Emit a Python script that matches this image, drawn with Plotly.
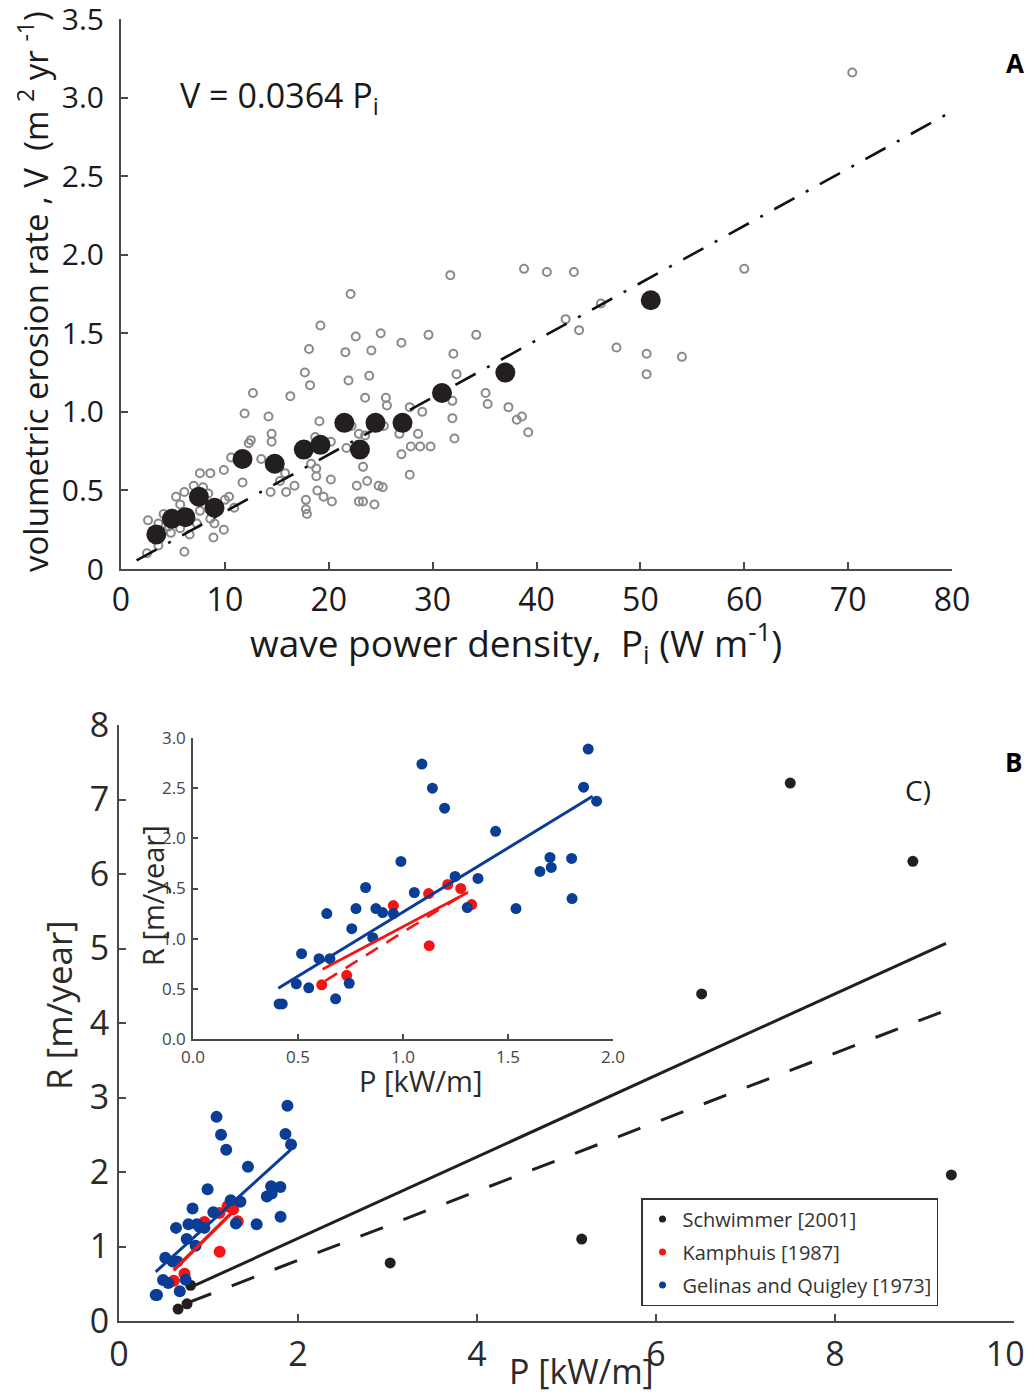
import plotly.graph_objects as go

# The page body has an 8px margin, so the figure is made 8px smaller and
# all layout positions (measured on the 1034x1395 picture) are shifted.
OFF = 8
W, H = 1034 - OFF, 1395 - OFF
FONT = "Open Sans"

# ---------------- Panel A data ----------------
a_grey_x = [31.7, 38.8, 41.0, 43.6, 22.1, 19.2, 18.1, 22.6, 25.0, 21.6, 24.1, 27.0, 29.6, 34.2, 32.0, 32.3,
            17.7, 18.2, 21.9, 23.9, 12.7, 16.3, 23.5, 25.5, 25.6, 27.8, 29.0, 35.1, 35.3, 37.3, 38.1, 38.6,
            39.2, 31.9, 31.9, 32.1, 11.9, 14.2, 19.1, 14.5, 14.5, 12.5, 12.3, 10.6, 13.5, 18.7, 20.2, 21.7,
            22.9, 23.5, 22.2, 25.3, 26.8, 28.6, 27.9, 28.8, 29.8, 27.0, 27.8, 18.3, 18.8, 18.8, 20.2, 15.8,
            15.3, 16.7, 14.4, 15.9, 18.9, 19.5, 20.3, 17.8, 17.8, 17.9, 23.3, 23.7, 22.7, 24.8, 25.2, 22.9,
            23.3, 24.4, 11.7, 10.4, 10.0, 10.9, 7.6, 8.6, 9.9, 7.0, 7.9, 6.1, 5.3, 5.7, 8.4, 8.6,
            9.0, 9.9, 8.9, 6.1, 6.6, 4.8, 2.6, 3.6, 4.1, 3.6, 2.5, 4.6, 7.6, 7.3, 5.7, 3.1,
            70.4, 60.0, 46.2, 42.8, 44.1, 47.7, 50.6, 54.0, 50.6]
a_grey_y = [1.87, 1.91, 1.89, 1.89, 1.75, 1.55, 1.40, 1.48, 1.50, 1.38, 1.39, 1.44, 1.49, 1.49, 1.37, 1.24,
            1.25, 1.17, 1.20, 1.23, 1.12, 1.10, 1.09, 1.09, 1.04, 1.03, 1.00, 1.12, 1.05, 1.03, 0.95, 0.97,
            0.87, 1.07, 0.96, 0.83, 0.99, 0.97, 0.94, 0.86, 0.81, 0.82, 0.80, 0.71, 0.70, 0.84, 0.81, 0.77,
            0.86, 0.85, 0.91, 0.91, 0.86, 0.86, 0.78, 0.78, 0.78, 0.73, 0.60, 0.67, 0.64, 0.59, 0.57, 0.61,
            0.56, 0.53, 0.49, 0.49, 0.50, 0.46, 0.43, 0.44, 0.38, 0.35, 0.65, 0.56, 0.53, 0.53, 0.52, 0.43,
            0.43, 0.41, 0.55, 0.46, 0.44, 0.39, 0.61, 0.61, 0.63, 0.53, 0.52, 0.49, 0.46, 0.41, 0.48, 0.32,
            0.29, 0.25, 0.20, 0.11, 0.22, 0.23, 0.31, 0.29, 0.35, 0.15, 0.10, 0.27, 0.37, 0.29, 0.26, 0.20,
            3.16, 1.91, 1.69, 1.59, 1.52, 1.41, 1.37, 1.35, 1.24]
a_mean_x = [3.4, 4.9, 6.2, 7.5, 9.0, 11.7, 14.8, 17.6, 19.2, 21.5, 23.0, 24.5, 27.1, 30.9, 37.0, 51.0]
a_mean_y = [0.22, 0.32, 0.33, 0.46, 0.39, 0.70, 0.67, 0.76, 0.79, 0.93, 0.76, 0.93, 0.93, 1.12, 1.25, 1.71]
a_fit_slope = 0.0364
a_fit_x = [1.5, 80.0]
a_xticks = [0, 10, 20, 30, 40, 50, 60, 70, 80]
a_yticks = [0, 0.5, 1.0, 1.5, 2.0, 2.5, 3.0, 3.5]
a_yticktext = ["0", "0.5", "1.0", "1.5", "2.0", "2.5", "3.0", "3.5"]

# ---------------- Panel B data ----------------
schw_x = [0.66, 0.76, 0.80, 3.03, 5.17, 6.51, 7.50, 8.87, 9.30]
schw_y = [0.16, 0.23, 0.48, 0.78, 1.10, 4.39, 7.22, 6.17, 1.96]
kamp_x = [0.613, 0.732, 0.954, 1.122, 1.125, 1.213, 1.275, 1.327]
kamp_y = [0.54, 0.635, 1.33, 1.45, 0.93, 1.54, 1.50, 1.34]
gel_x = [0.410, 0.425, 0.492, 0.517, 0.551, 0.600, 0.637, 0.652, 0.679, 0.744, 0.756, 0.776, 0.822, 0.856,
         0.871, 0.903, 0.954, 0.990, 1.054, 1.090, 1.140, 1.198, 1.248, 1.306, 1.357, 1.441, 1.538, 1.652,
         1.700, 1.706, 1.803, 1.805, 1.860, 1.882, 1.922]
gel_y = [0.35, 0.35, 0.55, 0.85, 0.51, 0.80, 1.25, 0.80, 0.40, 0.555, 1.10, 1.30, 1.51, 1.01,
         1.30, 1.26, 1.25, 1.77, 1.46, 2.74, 2.50, 2.30, 1.62, 1.31, 1.60, 2.07, 1.30, 1.67,
         1.81, 1.71, 1.80, 1.40, 2.51, 2.89, 2.37]
# fitted lines (end points)
b_black_solid_x = [0.76, 9.24]
b_black_solid_y = [0.43, 5.07]
b_black_dash_x = [0.78, 9.24]
b_black_dash_y = [0.25, 4.17]
b_blue_x = [0.41, 1.92]
b_blue_y = [0.66, 2.30]
b_red_x = [0.61, 1.30]
b_red_y = [0.68, 1.50]
in_blue_x = [0.406, 1.903]
in_blue_y = [0.505, 2.42]
in_red_x = [0.617, 1.308]
in_red_y = [0.695, 1.46]
in_red_dash_x = [0.63, 1.31]
in_red_dash_y = [0.58, 1.47]
b_xticks = [0, 2, 4, 6, 8, 10]
b_xticktext = ["0", "2", "4", "6", "8", "10\u00a0\u00a0"]
b_yticks = [0, 1, 2, 3, 4, 5, 6, 7, 8]
in_xticks = [0.0, 0.5, 1.0, 1.5, 2.0]
in_yticks = [0.0, 0.5, 1.0, 1.5, 2.0, 2.5, 3.0]
legend_names = ["Schwimmer [2001]", "Kamphuis [1987]", "Gelinas and Quigley [1973]"]

BLACK = "#231f20"
RED = "#f41414"
BLUE = "#0a3e96"
GREY = "#8a8a8a"
AXC = "#4a4a4a"


def px(x):
    return (x - OFF) / W


def py(y):
    return 1 - (y - OFF) / H


fig = go.Figure()

# Panel A
fig.add_trace(go.Scatter(x=a_grey_x, y=a_grey_y, mode="markers", xaxis="x", yaxis="y",
                         marker=dict(symbol="circle-open", size=8, color=GREY, line=dict(width=2, color=GREY)),
                         showlegend=False, cliponaxis=False))
fig.add_trace(go.Scatter(x=a_fit_x, y=[a_fit_slope * v for v in a_fit_x], mode="lines", xaxis="x", yaxis="y",
                         line=dict(color="#111111", width=2.6, dash="23px,13px,3px,13px"), showlegend=False))
fig.add_trace(go.Scatter(x=a_mean_x, y=a_mean_y, mode="markers", xaxis="x", yaxis="y",
                         marker=dict(size=20, color=BLACK), showlegend=False, cliponaxis=False))

# Panel B main
fig.add_trace(go.Scatter(x=schw_x, y=schw_y, mode="markers", xaxis="x2", yaxis="y2",
                         marker=dict(size=11, color=BLACK), showlegend=False, cliponaxis=False))
fig.add_trace(go.Scatter(x=kamp_x, y=kamp_y, mode="markers", xaxis="x2", yaxis="y2",
                         marker=dict(size=12, color=RED), showlegend=False))
fig.add_trace(go.Scatter(x=gel_x, y=gel_y, mode="markers", xaxis="x2", yaxis="y2",
                         marker=dict(size=12, color=BLUE), showlegend=False))
fig.add_trace(go.Scatter(x=b_red_x, y=b_red_y, mode="lines", xaxis="x2", yaxis="y2",
                         line=dict(color=RED, width=3.5), showlegend=False))
fig.add_trace(go.Scatter(x=b_blue_x, y=b_blue_y, mode="lines", xaxis="x2", yaxis="y2",
                         line=dict(color=BLUE, width=3), showlegend=False))
fig.add_trace(go.Scatter(x=b_black_solid_x, y=b_black_solid_y, mode="lines", xaxis="x2", yaxis="y2",
                         line=dict(color=BLACK, width=3), showlegend=False))
fig.add_trace(go.Scatter(x=b_black_dash_x, y=b_black_dash_y, mode="lines", xaxis="x2", yaxis="y2",
                         line=dict(color=BLACK, width=3, dash="24px,22px"), showlegend=False))

# Inset
fig.add_trace(go.Scatter(x=kamp_x, y=kamp_y, mode="markers", xaxis="x3", yaxis="y3",
                         marker=dict(size=11, color=RED), showlegend=False))
fig.add_trace(go.Scatter(x=gel_x, y=gel_y, mode="markers", xaxis="x3", yaxis="y3",
                         marker=dict(size=11, color=BLUE), showlegend=False, cliponaxis=False))
fig.add_trace(go.Scatter(x=in_red_x, y=in_red_y, mode="lines", xaxis="x3", yaxis="y3",
                         line=dict(color=RED, width=2.6), showlegend=False))
fig.add_trace(go.Scatter(x=in_red_dash_x, y=in_red_dash_y, mode="lines", xaxis="x3", yaxis="y3",
                         line=dict(color=RED, width=2.6, dash="14px,10px"), showlegend=False))
fig.add_trace(go.Scatter(x=in_blue_x, y=in_blue_y, mode="lines", xaxis="x3", yaxis="y3",
                         line=dict(color=BLUE, width=3), showlegend=False))

# Legend entries
for name, col in zip(legend_names, [BLACK, RED, BLUE]):
    fig.add_trace(go.Scatter(x=[None], y=[None], mode="markers", xaxis="x2", yaxis="y2", name=name,
                             legendgroup=name, marker=dict(size=7, color=col), showlegend=True))

axis_common = dict(showline=True, linecolor=AXC, linewidth=2, ticks="inside", tickcolor=AXC,
                   tickwidth=2, ticklen=7, showgrid=False, zeroline=False, mirror=False,
                   automargin=False, ticklabeloverflow="allow")
inset_axis = {**axis_common, "linewidth": 1.5, "ticklen": 5, "tickwidth": 1.5}

fig.update_layout(
    width=W, height=H, margin=dict(l=0, r=0, t=0, b=0, autoexpand=False),
    paper_bgcolor="white", plot_bgcolor="rgba(0,0,0,0)",
    font=dict(family=FONT, color="#1a1a1a"),
    xaxis=dict(domain=[px(121), px(952)], range=[0, 80], anchor="y", tickvals=a_xticks,
               tickfont=dict(size=32, color="#1a1a1a"), ticklabelstandoff=2, **axis_common),
    yaxis=dict(domain=[py(569), py(19)], range=[0, 3.5], anchor="x", tickvals=a_yticks,
               ticktext=a_yticktext, tickfont=dict(size=30, color="#1a1a1a"), ticklabelstandoff=9,
               **axis_common),
    xaxis2=dict(domain=[px(119), px(1014)], range=[0, 10], anchor="y2", tickvals=b_xticks,
                ticktext=b_xticktext, tickfont=dict(size=34, color="#2a2a2a"), ticklabelstandoff=2,
                **axis_common),
    yaxis2=dict(domain=[py(1321), py(725)], range=[0, 8], anchor="x2", tickvals=b_yticks,
                tickfont=dict(size=34, color="#2a2a2a"), ticklabelstandoff=1, **axis_common),
    xaxis3=dict(domain=[px(193), px(613)], range=[0, 2], anchor="y3", tickvals=in_xticks,
                tickformat=".1f", tickfont=dict(size=17, color="#444444"), ticklabelstandoff=2,
                **inset_axis),
    yaxis3=dict(domain=[py(1039), py(738)], range=[0, 3], anchor="x3", tickvals=in_yticks,
                tickformat=".1f", tickfont=dict(size=17, color="#444444"), ticklabelstandoff=2,
                **inset_axis),
    legend=dict(x=px(641), y=py(1198), xanchor="left", yanchor="top", bgcolor="white",
                bordercolor="#333333", borderwidth=1.5, font=dict(size=20, color="#333333"),
                tracegroupgap=4, itemsizing="trace", itemwidth=30),
)

ann = [
    dict(x=px(33), y=py(292), text="volumetric erosion rate , V  (m <sup>2</sup> yr <sup>-1</sup>)",
         textangle=-90, font=dict(size=33, color="#1a1a1a")),
    dict(x=px(516), y=py(642), text="wave power density,  P<sub>i</sub> (W m<sup>-1</sup>)",
         font=dict(size=37, color="#1a1a1a")),
    dict(x=px(178), y=py(97), text="V = 0.0364 P<sub>i</sub>", xanchor="left",
         font=dict(size=34, color="#1a1a1a")),
    dict(x=px(1015), y=py(63), text="<b>A</b>", font=dict(size=26, color="#000000")),
    dict(x=px(58), y=py(1005), text="R [m/year]", textangle=-90, font=dict(size=35, color="#2a2a2a")),
    dict(x=px(581), y=py(1371), text="P [kW/m]", font=dict(size=34, color="#2a2a2a")),
    dict(x=px(152), y=py(896), text="R [m/year]", textangle=-90, font=dict(size=29, color="#2a2a2a")),
    dict(x=px(420), y=py(1080), text="P [kW/m]", font=dict(size=29, color="#2a2a2a")),
    dict(x=px(1013), y=py(762), text="<b>B</b>", font=dict(size=26, color="#000000")),
    dict(x=px(918), y=py(790), text="C)", font=dict(size=28, color="#1a1a1a")),
]
for a in ann:
    a.update(xref="paper", yref="paper", showarrow=False)
    a.setdefault("xanchor", "center")
    a.setdefault("yanchor", "middle")
fig.update_layout(annotations=ann)

fig.write_html("out.html")
